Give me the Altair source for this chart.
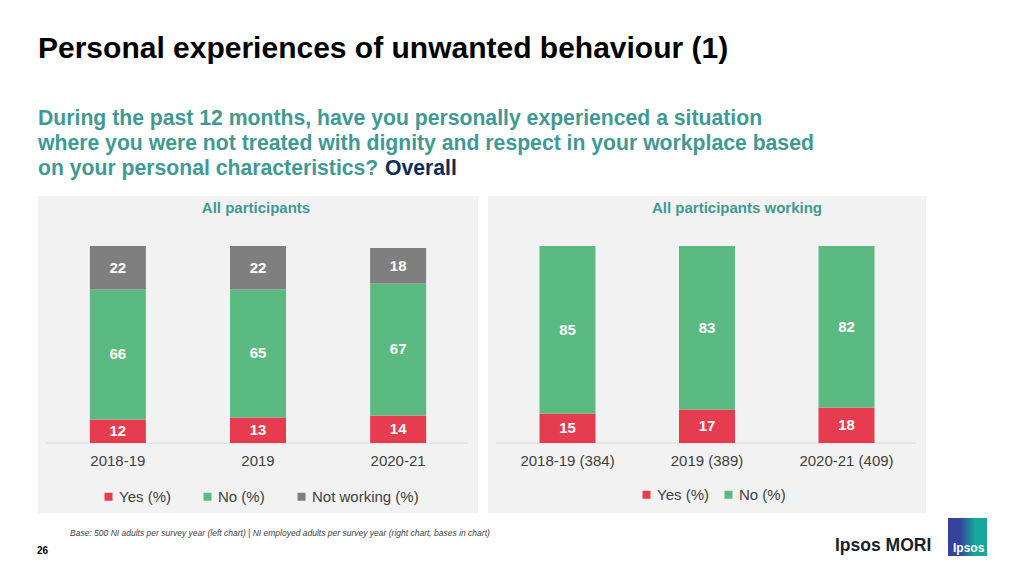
import altair as alt
import pandas as pd

FONT = "Liberation Sans"
TEAL = "#3E9A93"
NAVY = "#0E2A5C"
GREY_TXT = "#404040"
PANEL_BG = "#F2F2F2"

# ---------------- text ----------------
TITLE = "Personal experiences of unwanted behaviour (1)"
QUESTION_LINES = [
    "During the past 12 months, have you personally experienced a situation",
    "where you were not treated with dignity and respect in your workplace based",
    "on your personal characteristics?",
]
QUESTION_EMPH = "Overall"
FOOTNOTE = ("Base: 500 NI adults per survey year (left chart) | NI employed adults per survey "
            "year (right chart, bases in chart)")
PAGE_NO = "26"
BRAND = "Ipsos MORI"
LOGO_TEXT = "Ipsos"

# ---------------- data ----------------
left_title = "All participants"
left_years = ["2018-19", "2019", "2020-21"]
left_series = ["Yes (%)", "No (%)", "Not working (%)"]
left_yes = [12, 13, 14]
left_no = [66, 65, 67]
left_notworking = [22, 22, 18]

right_title = "All participants working"
right_years = ["2018-19 (384)", "2019 (389)", "2020-21 (409)"]
right_series = ["Yes (%)", "No (%)"]
right_yes = [15, 17, 18]
right_no = [85, 83, 82]

series_colors = ["#E63C4F", "#5BBA82", "#7F7F7F"]


def long_df(cats, series, values):
    rows = []
    for si, (s, vals) in enumerate(zip(series, values)):
        for c, v in zip(cats, vals):
            rows.append({"cat": c, "series": s, "idx": si, "value": v})
    return pd.DataFrame(rows)


left_df = long_df(left_years, left_series, [left_yes, left_no, left_notworking])
right_df = long_df(right_years, right_series, [right_yes, right_no])

PANEL_H = 317
Y_DOMAIN = [-35.5, 125.4]


def panel(df, cats, series, colors, title, width, title_x, legend_x, legend_y, col_pad):
    x = alt.X("cat:N", sort=cats, axis=None,
              scale=alt.Scale(paddingInner=0, paddingOuter=0.07))
    yscale = alt.Scale(domain=Y_DOMAIN, nice=False, zero=False)
    bars = alt.Chart(df).mark_bar(width=56).encode(
        x=x,
        y=alt.Y("value:Q", stack="zero", axis=None, scale=yscale),
        color=alt.Color(
            "series:N",
            scale=alt.Scale(domain=series, range=colors),
            legend=alt.Legend(
                orient="none", legendX=legend_x, legendY=legend_y,
                direction="horizontal", title=None, symbolType="square",
                symbolSize=64, symbolStrokeWidth=0, labelFont=FONT,
                labelFontSize=15, labelColor=GREY_TXT, columnPadding=col_pad,
                labelOffset=3,
            ),
        ),
        order=alt.Order("idx:Q"),
    )
    labels = alt.Chart(df).transform_stack(
        stack="value", as_=["y0", "y1"], groupby=["cat"],
        sort=[alt.SortField("idx", order="ascending")],
    ).transform_calculate(mid="(datum.y0 + datum.y1) / 2").mark_text(
        font=FONT, fontSize=15, fontWeight="bold", color="white", baseline="middle"
    ).encode(x=x, y=alt.Y("mid:Q", scale=yscale, axis=None), text="value:Q")

    base_rule = alt.Chart(pd.DataFrame({"v": [0]})).mark_rule(
        color="#D9D9D9", strokeWidth=1
    ).encode(y=alt.Y("v:Q", scale=yscale, axis=None),
             x=alt.value(8), x2=alt.value(width - 10))

    cat_labels = alt.Chart(pd.DataFrame({"cat": cats})).mark_text(
        font=FONT, fontSize=15, color=GREY_TXT, baseline="middle"
    ).encode(x=x, y=alt.value(265), text="cat:N")

    ttl = alt.Chart(pd.DataFrame({"t": [title]})).mark_text(
        font=FONT, fontSize=15, fontWeight="bold", color=TEAL, baseline="middle"
    ).encode(x=alt.value(title_x), y=alt.value(12), text="t:N")

    return alt.layer(base_rule, bars, labels, cat_labels, ttl).properties(
        width=width, height=PANEL_H,
        view=alt.ViewBackground(fill=PANEL_BG, stroke=None),
    )


left = panel(left_df, left_years, left_series, series_colors, left_title,
             440, 218, 63, 293, 29)
right = panel(right_df, right_years, right_series, series_colors[:2], right_title,
              438, 249, 151, 291, 12)

spacer = alt.Chart(pd.DataFrame({"t": [""]})).mark_text().encode(
    text="t:N", x=alt.value(10), y=alt.value(150)
).properties(width=20, height=PANEL_H)

row = alt.hconcat(spacer, left, right, spacing=10).resolve_scale(
    color="independent", x="independent", y="independent"
).resolve_legend(color="independent")


def txt(s, x, y, **kw):
    return alt.Chart(pd.DataFrame({"t": [s]})).mark_text(
        font=FONT, align="left", baseline="alphabetic", **kw
    ).encode(text="t:N", x=alt.value(x), y=alt.value(y))


header_layers = [txt(TITLE, 30, 50, fontSize=30, fontWeight="bold", color="#000000")]
for i, line in enumerate(QUESTION_LINES):
    header_layers.append(txt(line, 30, 117 + 25 * i, fontSize=21.2, fontWeight="bold", color=TEAL))
header_layers.append(txt(QUESTION_EMPH, 377, 167, fontSize=21.2, fontWeight="bold", color=NAVY))
header = alt.layer(*header_layers).properties(width=1000, height=188)

logo_bg = alt.Chart(pd.DataFrame({"a": [0]})).mark_rect(
    fill=alt.LinearGradient(
        gradient="linear",
        stops=[alt.GradientStop(color="#34429C", offset=0.3),
               alt.GradientStop(color="#16A89C", offset=0.7)],
        x1=0, x2=1, y1=0, y2=0,
    )
).encode(x=alt.value(940), x2=alt.value(979), y=alt.value(5), y2=alt.value(43))

footer = alt.layer(
    txt(FOOTNOTE, 62, 23, fontSize=8.5, fontStyle="italic", color="#404040"),
    txt(PAGE_NO, 29, 41, fontSize=10, fontWeight="bold", color="#000000"),
    txt(BRAND, 827, 38, fontSize=17.5, fontWeight="bold", color="#1C1C2A"),
    logo_bg,
    txt(LOGO_TEXT, 945, 39, fontSize=12, fontWeight="bold", color="#FFFFFF"),
).properties(width=1000, height=58)

chart = alt.vconcat(header, row, footer, spacing=0).properties(
    padding=0, background="white"
).configure_view(stroke=None)

chart.save("out.html", embed_options={"renderer": "svg", "actions": False})
